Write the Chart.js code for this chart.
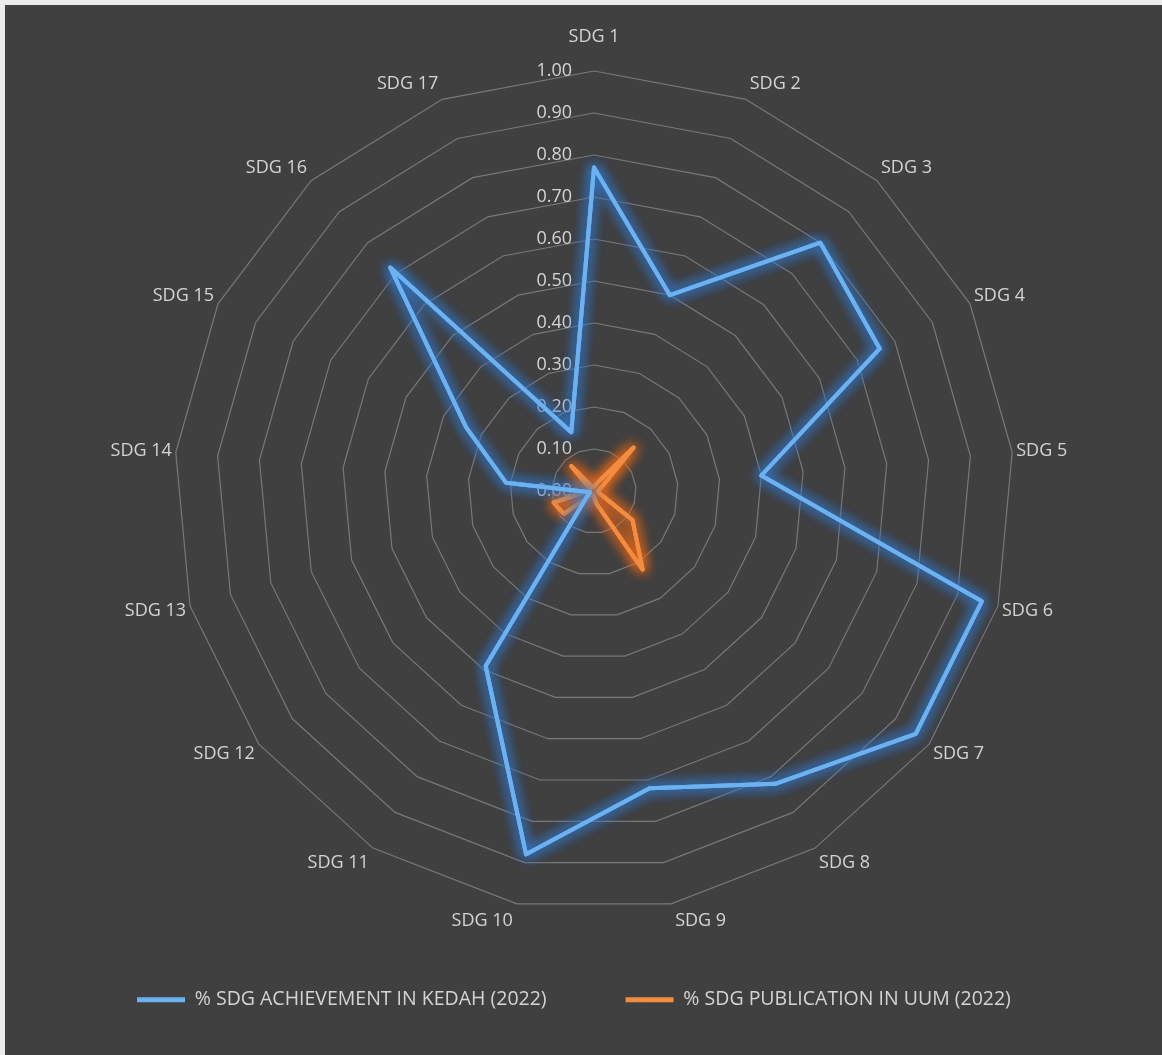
<!DOCTYPE html>
<html>
<head>
<meta charset="utf-8">
<script src="https://cdn.jsdelivr.net/npm/chart.js@4.4.0/dist/chart.umd.min.js"></script>
<style>
  html, body { margin: 0; padding: 0; background: #ececec; }
  #wrap { position: absolute; left: 5px; top: 5px; width: 1157px; height: 1050px; background: #404040; }
</style>
</head>
<body>
<div id="wrap"><canvas id="sdgRadar"></canvas></div>
<script>
// Categories and values
const categories = [
    'SDG 1', 'SDG 2', 'SDG 3', 'SDG 4', 'SDG 5', 'SDG 6', 'SDG 7', 'SDG 8', 'SDG 9',
    'SDG 10', 'SDG 11', 'SDG 12', 'SDG 13', 'SDG 14', 'SDG 15', 'SDG 16', 'SDG 17'
];
const kedahAchievement = [0.77, 0.50, 0.80, 0.76, 0.40, 0.96, 0.96, 0.82, 0.72, 0.88, 0.49, 0.02, 0.01, 0.21, 0.34, 0.72, 0.15];
const uumPublication = [0.01, 0.02, 0.14, 0.02, 0.01, 0.01, 0.115, 0.22, 0.03, 0.01, 0.01, 0.09, 0.10, 0.01, 0.01, 0.08, 0.01];
const seriesNames = ['% SDG ACHIEVEMENT IN KEDAH (2022)', '% SDG PUBLICATION IN UUM (2022)'];
const tickLabels = ['0.00', '0.10', '0.20', '0.30', '0.40', '0.50', '0.60', '0.70', '0.80', '0.90', '1.00'];

const textColor = '#d4d4d4';
const fontFamily = '"Open Sans", sans-serif';
const glowColors = ['rgba(50,120,205,1)', 'rgba(235,105,25,1)'];

// Glow round each series line: draw the line twice more under a blurred shadow
const glowPlugin = {
    id: 'glow',
    beforeDatasetDraw(chart, args) {
        const ctx = chart.ctx;
        ctx.save();
        ctx.shadowColor = glowColors[args.index];
        ctx.shadowBlur = 13;
        args.meta.dataset.draw(ctx, chart.chartArea);
        args.meta.dataset.draw(ctx, chart.chartArea);
    },
    afterDatasetDraw(chart) {
        chart.ctx.restore();
    }
};

// Tick values left of the vertical axis, category names round the outside
const axisTextPlugin = {
    id: 'axisText',
    beforeDatasetsDraw(chart) {
        const scale = chart.scales.r;
        const ctx = chart.ctx;
        ctx.save();
        ctx.font = '18px ' + fontFamily;
        ctx.fillStyle = textColor;
        ctx.textAlign = 'right';
        ctx.textBaseline = 'middle';
        scale.ticks.forEach((tick, i) => {
            const y = scale.yCenter - scale.getDistanceFromCenterForValue(tick.value);
            ctx.fillText(tickLabels[i], scale.xCenter - 22, y);
        });
        ctx.restore();
    },
    afterDatasetsDraw(chart) {
        const scale = chart.scales.r;
        const ctx = chart.ctx;
        ctx.save();
        ctx.font = '18px ' + fontFamily;
        ctx.fillStyle = textColor;
        ctx.textBaseline = 'middle';
        chart.data.labels.forEach((label, i) => {
            const p = scale.getPointPosition(i, scale.drawingArea);
            const dx = p.x - scale.xCenter;
            const cos = (scale.yCenter - p.y) / scale.drawingArea;
            let align = 'center';
            let x = p.x;
            if (dx > 1) { align = 'left'; x += 4; }
            else if (dx < -1) { align = 'right'; x -= 4; }
            let y = p.y - 17 * cos;
            if (i === 0) y -= 17;
            ctx.textAlign = align;
            ctx.fillText(label, x, y);
        });
        ctx.restore();
    }
};

const ctx = document.getElementById('sdgRadar').getContext('2d');
new Chart(ctx, {
    type: 'radar',
    data: {
        labels: categories,
        datasets: [{
            label: seriesNames[0],
            data: kedahAchievement,
            borderColor: '#6cb1f0',
            backgroundColor: '#6cb1f0',
            borderWidth: 4,
            fill: false,
            pointRadius: 0,
            pointHoverRadius: 0,
            borderJoinStyle: 'round'
        }, {
            label: seriesNames[1],
            data: uumPublication,
            borderColor: '#f28c40',
            backgroundColor: '#f28c40',
            borderWidth: 4,
            fill: false,
            pointRadius: 0,
            pointHoverRadius: 0,
            borderJoinStyle: 'round'
        }]
    },
    options: {
        responsive: true,
        maintainAspectRatio: false,
        animation: false,
        layout: {
            padding: { left: 53, right: 32, top: 66, bottom: 35.5 }
        },
        plugins: {
            tooltip: { enabled: false },
            legend: {
                position: 'bottom',
                align: 'start',
                labels: {
                    color: textColor,
                    font: { family: fontFamily, size: 19.5 },
                    boxWidth: 48,
                    boxHeight: 5,
                    padding: 79,
                    generateLabels: chart => chart.data.datasets.map((ds, i) => ({
                        text: ds.label,
                        fillStyle: ds.borderColor,
                        strokeStyle: ds.borderColor,
                        lineWidth: 0,
                        hidden: false,
                        datasetIndex: i,
                        fontColor: textColor
                    }))
                }
            }
        },
        scales: {
            r: {
                min: 0,
                max: 1,
                ticks: { stepSize: 0.1, display: false },
                grid: { color: '#787878', lineWidth: 1.2 },
                angleLines: { display: false },
                pointLabels: { display: false }
            }
        }
    },
    plugins: [glowPlugin, axisTextPlugin]
});
</script>
</body>
</html>
